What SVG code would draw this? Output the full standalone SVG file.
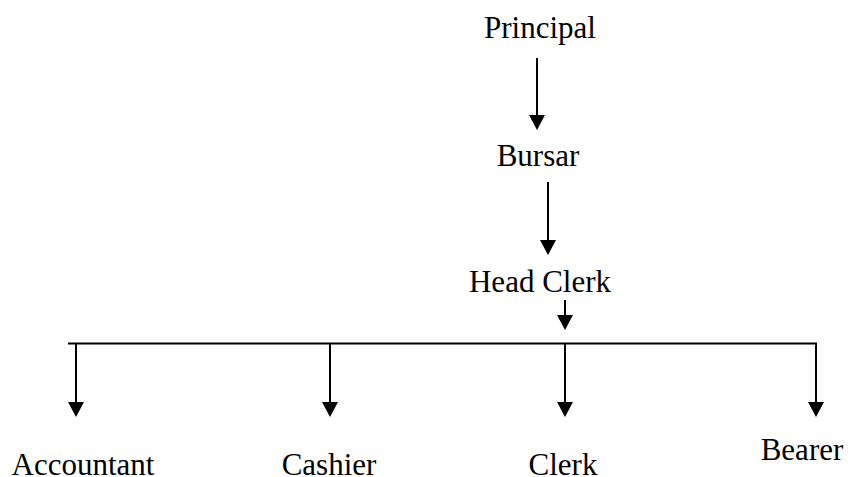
<svg xmlns="http://www.w3.org/2000/svg" width="848" height="477" viewBox="0 0 848 477">
<style>
.lbl{font-family:"Liberation Serif","Times New Roman",serif;font-size:31px;fill:#000;text-anchor:middle}
.c{stroke:#000;stroke-width:2;fill:none}
</style>
<defs>
<marker id="ah" viewBox="0 0 15 16" markerUnits="userSpaceOnUse" markerWidth="15" markerHeight="16" refX="12" refY="8" orient="auto">
<path d="M0,0 L15,8 L0,16 z" fill="#000"/>
</marker>
</defs>
<rect width="848" height="477" fill="#fff"/>
<g id="connectors">
<line class="c" x1="537" y1="58" x2="537" y2="127" marker-end="url(#ah)"/>
<line class="c" x1="548" y1="182" x2="548" y2="252" marker-end="url(#ah)"/>
<line class="c" x1="565" y1="300" x2="565" y2="327" marker-end="url(#ah)"/>
<line class="c" x1="68" y1="343.5" x2="817" y2="343.5"/>
<line class="c" x1="76" y1="343" x2="76" y2="414" marker-end="url(#ah)"/>
<line class="c" x1="330" y1="343" x2="330" y2="414" marker-end="url(#ah)"/>
<line class="c" x1="565" y1="343" x2="565" y2="414" marker-end="url(#ah)"/>
<line class="c" x1="816" y1="343" x2="816" y2="414" marker-end="url(#ah)"/>
</g>
<g id="principal"><text class="lbl" x="540" y="38">Principal</text></g>
<g id="bursar"><text class="lbl" x="538" y="166">Bursar</text></g>
<g id="headclerk"><text class="lbl" x="540" y="292">Head Clerk</text></g>
<g id="accountant"><text class="lbl" x="83" y="475">Accountant</text></g>
<g id="cashier"><text class="lbl" x="329" y="475">Cashier</text></g>
<g id="clerk"><text class="lbl" x="563" y="475">Clerk</text></g>
<g id="bearer"><text class="lbl" x="802" y="460">Bearer</text></g>
</svg>
